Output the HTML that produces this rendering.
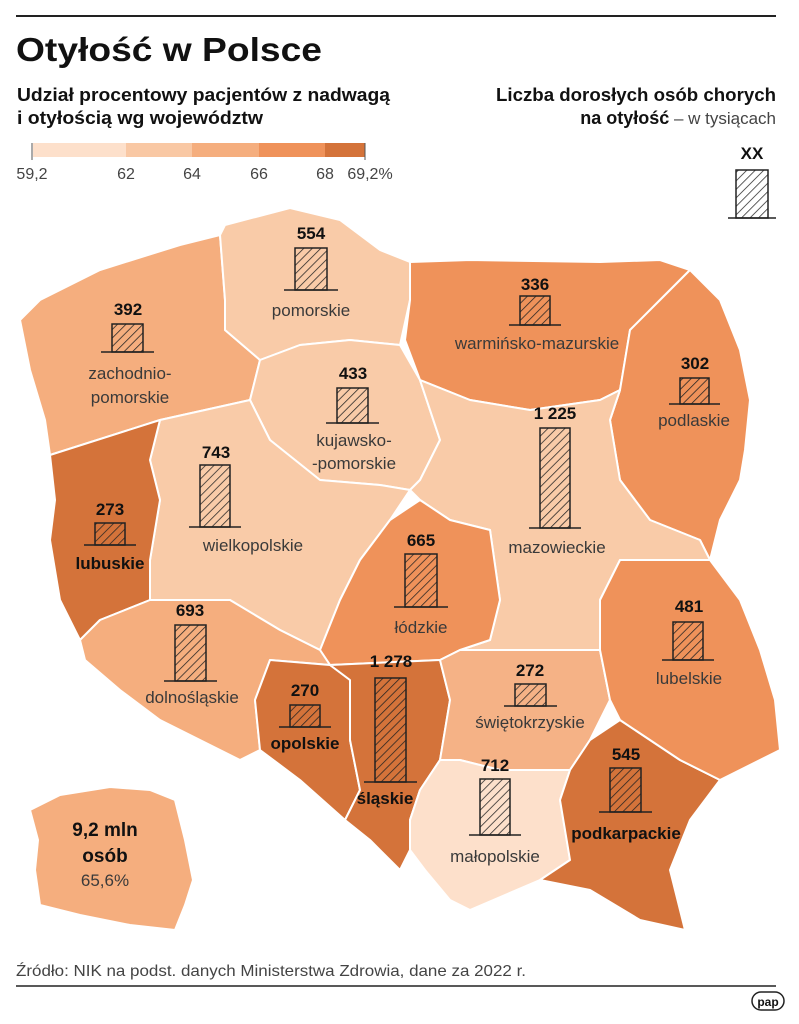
<!DOCTYPE html>
<html><head><meta charset="utf-8"><style>
html,body{margin:0;padding:0;background:#fff}
svg{display:block}
text{font-family:"Liberation Sans",sans-serif}
.n{font-size:17px;fill:#3a3a3a;text-anchor:middle}
.b{font-size:17px;font-weight:bold;fill:#111;text-anchor:middle}
</style></head><body>
<svg width="799" height="1024" viewBox="0 0 799 1024" xmlns="http://www.w3.org/2000/svg">
<defs>
<pattern id="h" width="6" height="6" patternUnits="userSpaceOnUse" patternTransform="rotate(45)">
<rect width="6" height="6" fill="none"/><line x1="0" y1="0" x2="0" y2="6" stroke="#222" stroke-width="1.5"/>
</pattern>
</defs>
<line x1="16" y1="16" x2="776" y2="16" stroke="#222" stroke-width="2"/>
<text x="16" y="61" font-size="33" font-weight="bold" fill="#111" textLength="306" lengthAdjust="spacingAndGlyphs">Otyłość w Polsce</text>
<text x="17" y="101" font-size="18" font-weight="bold" fill="#111" textLength="373" lengthAdjust="spacingAndGlyphs">Udział procentowy pacjentów z nadwagą</text>
<text x="17" y="124" font-size="18" font-weight="bold" fill="#111" textLength="246" lengthAdjust="spacingAndGlyphs">i otyłością wg województw</text>
<text x="776" y="101" font-size="18" font-weight="bold" fill="#111" text-anchor="end" textLength="280" lengthAdjust="spacingAndGlyphs">Liczba dorosłych osób chorych</text>
<text x="776" y="124" font-size="17" fill="#444" text-anchor="end"><tspan font-weight="bold" fill="#111" font-size="18">na otyłość</tspan> – w tysiącach</text>
<rect x="33" y="143" width="93" height="14" fill="#fde0cb"/>
<rect x="126" y="143" width="66" height="14" fill="#f9c8a4"/>
<rect x="192" y="143" width="67" height="14" fill="#f5ae7e"/>
<rect x="259" y="143" width="66" height="14" fill="#ef925a"/>
<rect x="325" y="143" width="40" height="14" fill="#d4733a"/>
<g stroke="#555" stroke-width="1"><line x1="32" y1="143" x2="32" y2="160"/><line x1="365" y1="143" x2="365" y2="160"/></g>
<g font-size="16" fill="#444" text-anchor="middle">
<text x="32" y="179">59,2</text><text x="126" y="179">62</text><text x="192" y="179">64</text><text x="259" y="179">66</text><text x="325" y="179">68</text><text x="370" y="179">69,2%</text></g>

<g stroke="#fff" stroke-width="2" stroke-linejoin="round">
<path fill="#f5ae7e" d="M20,320 L40,300 L100,270 L180,245 L220,235 L225,300 L225,330 L260,360 L250,400 L160,420 L50,455 L45,420 L30,370 Z"/>
<path fill="#f9cba8" d="M220,235 L225,225 L290,208 L340,220 L380,250 L410,262 L410,300 L400,345 L350,340 L300,345 L260,360 L225,330 L225,300 Z"/>
<path fill="#ef925a" d="M410,262 L470,260 L600,262 L660,260 L690,270 L660,300 L630,330 L620,390 L600,400 L530,410 L470,400 L420,380 L405,340 L410,300 Z"/>
<path fill="#ef925a" d="M690,270 L720,300 L740,350 L750,400 L745,450 L740,480 L720,520 L710,560 L700,540 L650,520 L620,480 L610,420 L620,390 L630,330 L660,300 Z"/>
<path fill="#f9cba8" d="M260,360 L300,345 L350,340 L400,345 L420,380 L440,440 L420,480 L410,490 L380,485 L320,480 L270,440 L250,400 Z"/>
<path fill="#f9cba8" d="M420,380 L470,400 L530,410 L600,400 L620,390 L610,420 L620,480 L650,520 L700,540 L710,560 L620,560 L600,600 L600,650 L540,650 L460,650 L490,640 L500,600 L490,530 L450,520 L420,500 L410,490 L420,480 L440,440 Z"/>
<path fill="#f9cba8" d="M160,420 L250,400 L270,440 L320,480 L380,485 L410,490 L390,520 L360,560 L340,600 L320,650 L280,630 L230,600 L150,600 L150,560 L160,500 L150,460 Z"/>
<path fill="#d4733a" d="M50,455 L160,420 L150,460 L160,500 L150,560 L150,600 L100,620 L80,640 L60,600 L50,540 L55,500 Z"/>
<path fill="#ef925a" d="M390,520 L420,500 L450,520 L490,530 L500,600 L490,640 L460,650 L440,660 L330,665 L320,650 L340,600 L360,560 Z"/>
<path fill="#f5ae7e" d="M80,640 L100,620 L150,600 L230,600 L280,630 L320,650 L330,665 L270,660 L255,700 L260,750 L240,760 L200,740 L160,720 L120,690 L85,660 Z"/>
<path fill="#d4733a" d="M270,660 L330,665 L350,680 L350,740 L360,790 L345,820 L300,780 L260,750 L255,700 Z"/>
<path fill="#d4733a" d="M330,665 L440,660 L450,700 L440,760 L420,790 L410,820 L410,850 L400,870 L370,840 L345,820 L360,790 L350,740 L350,680 Z"/>
<path fill="#f5b286" d="M440,660 L460,650 L540,650 L600,650 L610,700 L590,740 L570,770 L500,770 L460,760 L440,760 L450,700 Z"/>
<path fill="#fde0cb" d="M440,760 L460,760 L500,770 L570,770 L560,800 L570,860 L540,880 L470,910 L450,900 L425,870 L410,850 L410,820 L420,790 Z"/>
<path fill="#d4733a" d="M570,770 L590,740 L620,720 L650,740 L680,760 L720,780 L690,820 L670,870 L685,930 L640,920 L590,890 L540,880 L570,860 L560,800 Z"/>
<path fill="#ef925a" d="M620,560 L710,560 L740,600 L760,650 L775,700 L780,750 L720,780 L680,760 L650,740 L620,720 L610,700 L600,650 L600,600 Z"/>
<path fill="#f5ae7e" d="M30,810 L60,795 L110,787 L150,790 L175,800 L185,840 L193,880 L185,905 L175,930 L130,925 L80,915 L40,905 L35,870 L38,840 Z"/>
</g>

<g stroke="#222" stroke-width="1.5" fill="url(#h)">
<rect x="295" y="248" width="32" height="42"/><line x1="284" y1="290" x2="338" y2="290"/>
<rect x="112" y="324" width="31" height="28"/><line x1="101" y1="352" x2="154" y2="352"/>
<rect x="337" y="388" width="31" height="35"/><line x1="326" y1="423" x2="379" y2="423"/>
<rect x="520" y="296" width="30" height="29"/><line x1="509" y1="325" x2="561" y2="325"/>
<rect x="680" y="378" width="29" height="26"/><line x1="669" y1="404" x2="720" y2="404"/>
<rect x="540" y="428" width="30" height="100"/><line x1="529" y1="528" x2="581" y2="528"/>
<rect x="200" y="465" width="30" height="62"/><line x1="189" y1="527" x2="241" y2="527"/>
<rect x="95" y="523" width="30" height="22"/><line x1="84" y1="545" x2="136" y2="545"/>
<rect x="405" y="554" width="32" height="53"/><line x1="394" y1="607" x2="448" y2="607"/>
<rect x="175" y="625" width="31" height="56"/><line x1="164" y1="681" x2="217" y2="681"/>
<rect x="673" y="622" width="30" height="38"/><line x1="662" y1="660" x2="714" y2="660"/>
<rect x="290" y="705" width="30" height="22"/><line x1="279" y1="727" x2="331" y2="727"/>
<rect x="375" y="678" width="31" height="104"/><line x1="364" y1="782" x2="417" y2="782"/>
<rect x="515" y="684" width="31" height="22"/><line x1="504" y1="706" x2="557" y2="706"/>
<rect x="480" y="779" width="30" height="56"/><line x1="469" y1="835" x2="521" y2="835"/>
<rect x="610" y="768" width="31" height="44"/><line x1="599" y1="812" x2="652" y2="812"/>
<rect x="736" y="170" width="32" height="48"/><line x1="728" y1="218" x2="776" y2="218"/>
</g>

<g class="b">
<text x="311" y="239">554</text><text x="128" y="315">392</text><text x="353" y="379">433</text>
<text x="535" y="290">336</text><text x="695" y="369">302</text><text x="555" y="419">1 225</text>
<text x="216" y="458">743</text><text x="110" y="515">273</text><text x="421" y="546">665</text>
<text x="190" y="616">693</text><text x="689" y="612">481</text><text x="305" y="696">270</text>
<text x="391" y="667">1 278</text><text x="530" y="676">272</text><text x="495" y="771">712</text>
<text x="626" y="760">545</text><text x="752" y="159">XX</text>
</g>
<g class="n">
<text x="311" y="316">pomorskie</text><text x="130" y="379">zachodnio-</text><text x="130" y="403">pomorskie</text>
<text x="354" y="446">kujawsko-</text><text x="354" y="469">-pomorskie</text>
<text x="537" y="349">warmińsko-mazurskie</text><text x="694" y="426">podlaskie</text>
<text x="557" y="553">mazowieckie</text><text x="253" y="551">wielkopolskie</text>
<text x="421" y="633">łódzkie</text><text x="192" y="703">dolnośląskie</text><text x="689" y="684">lubelskie</text>
<text x="530" y="728">świętokrzyskie</text><text x="495" y="862">małopolskie</text>
</g>
<g class="b">
<text x="110" y="569">lubuskie</text><text x="305" y="749">opolskie</text><text x="385" y="804">śląskie</text><text x="626" y="839">podkarpackie</text>
<text x="105" y="836" font-size="19">9,2 mln</text><text x="105" y="862" font-size="19">osób</text>
</g>
<text x="105" y="886" class="n">65,6%</text>

<text x="16" y="976" font-size="16" fill="#444" textLength="510" lengthAdjust="spacingAndGlyphs">Źródło: NIK na podst. danych Ministerstwa Zdrowia, dane za 2022 r.</text>
<line x1="16" y1="986" x2="776" y2="986" stroke="#222" stroke-width="1.5"/>
<rect x="752" y="992" width="32" height="18" rx="9" fill="#fff" stroke="#222" stroke-width="1.5"/>
<text x="768" y="1006" font-size="12" font-weight="bold" text-anchor="middle" fill="#111">pap</text>
</svg>
</body></html>
